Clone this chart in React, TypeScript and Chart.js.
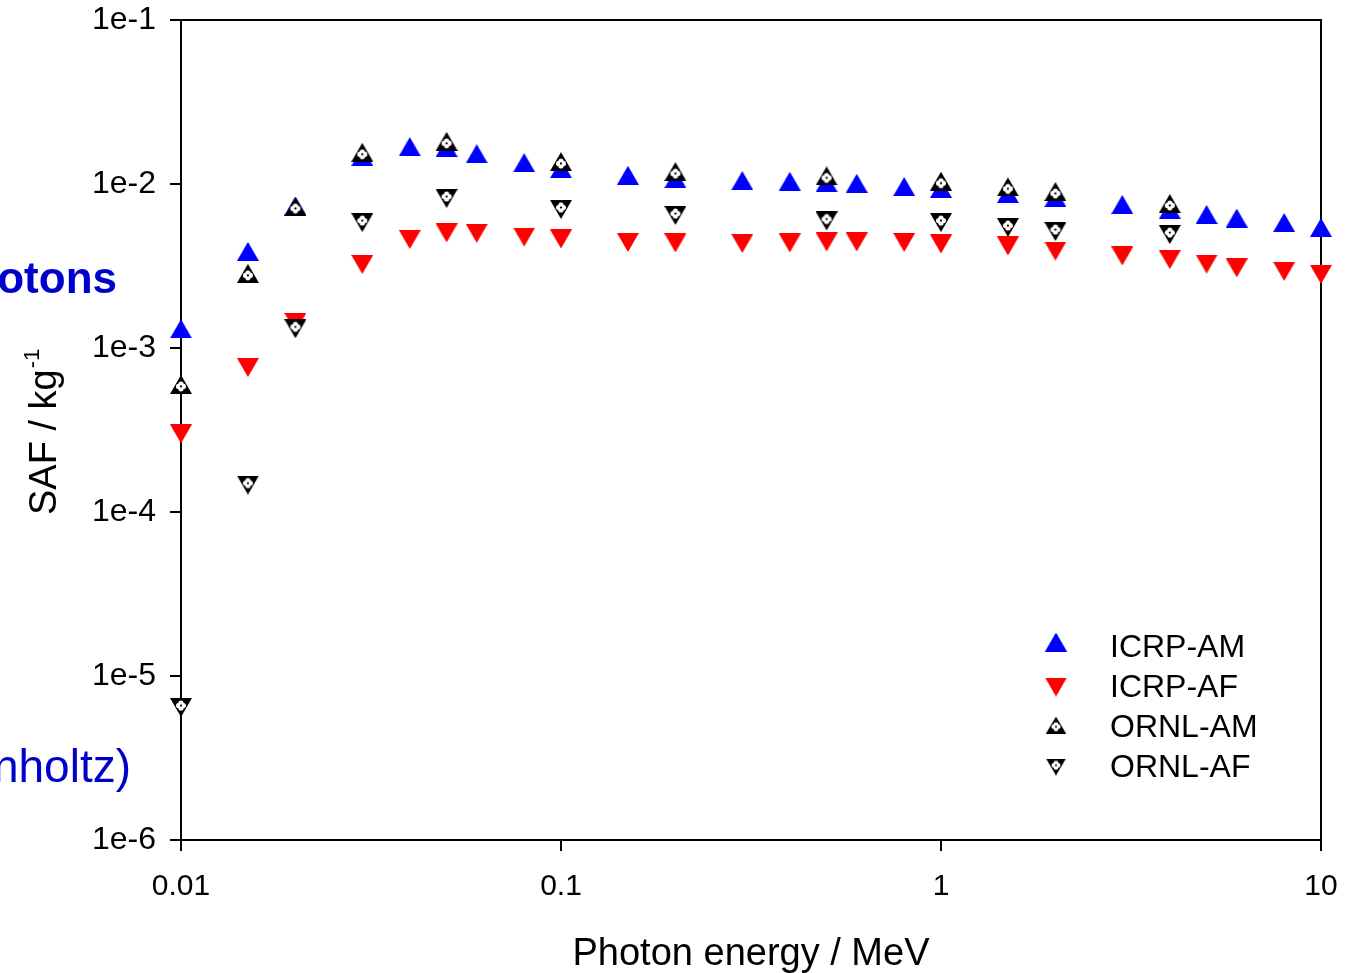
import React, { useEffect, useRef } from 'react';
import { Chart, registerables } from 'chart.js';

Chart.register(...registerables);

// ---- data ----
const icrpEnergies = [0.01, 0.015, 0.02, 0.03, 0.04, 0.05, 0.06, 0.08, 0.1, 0.15, 0.2, 0.3, 0.4, 0.5, 0.6, 0.8, 1, 1.5, 2, 3, 4, 5, 6, 8, 10];
const icrpAM = [1.31e-3, 3.88e-3, 7.34e-3, 1.47e-2, 1.69e-2, 1.67e-2, 1.53e-2, 1.35e-2, 1.24e-2, 1.13e-2, 1.08e-2, 1.05e-2, 1.04e-2, 1.02e-2, 1.01e-2, 9.65e-3, 9.4e-3, 8.75e-3, 8.27e-3, 7.5e-3, 6.99e-3, 6.52e-3, 6.2e-3, 5.82e-3, 5.43e-3];
const icrpAF = [3.0e-4, 7.6e-4, 1.43e-3, 3.23e-3, 4.59e-3, 5.03e-3, 5.0e-3, 4.75e-3, 4.62e-3, 4.4e-3, 4.37e-3, 4.34e-3, 4.37e-3, 4.43e-3, 4.43e-3, 4.4e-3, 4.31e-3, 4.19e-3, 3.9e-3, 3.64e-3, 3.46e-3, 3.25e-3, 3.08e-3, 2.93e-3, 2.81e-3];
const ornlEnergies = [0.01, 0.015, 0.02, 0.03, 0.05, 0.1, 0.2, 0.5, 1, 1.5, 2, 4];
const ornlAM = [5.99e-4, 2.85e-3, 7.29e-3, 1.56e-2, 1.82e-2, 1.37e-2, 1.19e-2, 1.12e-2, 1.04e-2, 9.6e-3, 9.0e-3, 7.6e-3];
const ornlAF = [6.43e-6, 1.46e-4, 1.31e-3, 5.82e-3, 8.16e-3, 7.0e-3, 6.43e-3, 5.95e-3, 5.82e-3, 5.43e-3, 5.13e-3, 4.92e-3];

const seriesNames = ['ICRP-AM', 'ICRP-AF', 'ORNL-AM', 'ORNL-AF'];
const xTicks = [0.01, 0.1, 1, 10];
const xTickLabels = ['0.01', '0.1', '1', '10'];
const yTicks = [1e-6, 1e-5, 1e-4, 1e-3, 1e-2, 1e-1];
const yTickLabels = ['1e-6', '1e-5', '1e-4', '1e-3', '1e-2', '1e-1'];
const xTitle = 'Photon energy / MeV';
const yTitle = 'SAF / kg';
const yTitleSup = '-1';
const sideText1 = 'Photons';
const sideText2 = 'nholtz)';

const FONT = '"Liberation Sans", Arial, Helvetica, sans-serif';

function makeMarker(up: boolean, w: number, h: number, color: string, ornl: boolean) {
  const c = document.createElement('canvas');
  c.width = w;
  c.height = h;
  const ctx = c.getContext('2d')!;
  ctx.fillStyle = color;
  ctx.beginPath();
  if (up) {
    ctx.moveTo(0, h);
    ctx.lineTo(w / 2, 0);
    ctx.lineTo(w, h);
  } else {
    ctx.moveTo(0, 0);
    ctx.lineTo(w, 0);
    ctx.lineTo(w / 2, h);
  }
  ctx.closePath();
  ctx.fill();
  if (ornl) {
    const s = w / 22;
    const cx = w / 2;
    const cy = up ? h * 0.6 : h * 0.4;
    const r = 2.6 * s;
    const o = 2.4 * s;
    ctx.fillStyle = '#ffffff';
    [[o, 0], [-o, 0], [0, o], [0, -o], [0, 0]].forEach(([dx, dy]) => {
      ctx.beginPath();
      ctx.arc(cx + dx, cy + dy, r, 0, Math.PI * 2);
      ctx.fill();
    });
    ctx.fillStyle = '#000000';
    ctx.beginPath();
    ctx.arc(cx, cy, 1.1 * s, 0, Math.PI * 2);
    ctx.fill();
  }
  return c;
}

export default function App() {
  const ref = useRef<HTMLCanvasElement | null>(null);

  useEffect(() => {
    const canvas = ref.current!;
    const mAM = makeMarker(true, 22, 19, '#0000ff', false);
    const mAF = makeMarker(false, 22, 19, '#ff0000', false);
    const mOAM = makeMarker(true, 22, 19, '#000000', true);
    const mOAF = makeMarker(false, 22, 19, '#000000', true);
    const lOAM = makeMarker(true, 20, 17, '#000000', true);
    const lOAF = makeMarker(false, 20, 17, '#000000', true);
    const legendMarkers = [mAM, mAF, lOAM, lOAF];

    const decor = {
      id: 'decor',
      beforeDatasetsDraw(chart: any) {
        const { ctx, chartArea: a } = chart;
        ctx.save();
        ctx.strokeStyle = '#000';
        ctx.lineWidth = 2;
        ctx.beginPath();
        ctx.moveTo(a.left, a.top);
        ctx.lineTo(a.right, a.top);
        ctx.lineTo(a.right, a.bottom);
        ctx.stroke();
        ctx.restore();
      },
      afterDraw(chart: any) {
        const { ctx, chartArea: a } = chart;
        ctx.save();
        // x title
        ctx.fillStyle = '#000';
        ctx.font = `38px ${FONT}`;
        ctx.textAlign = 'center';
        ctx.textBaseline = 'alphabetic';
        ctx.fillText(xTitle, (a.left + a.right) / 2, 965);
        // y title rotated
        ctx.save();
        ctx.translate(56, 515);
        ctx.rotate(-Math.PI / 2);
        ctx.textAlign = 'left';
        ctx.font = `38px ${FONT}`;
        ctx.fillText(yTitle, 0, 0);
        const w = ctx.measureText(yTitle).width;
        ctx.font = `22px ${FONT}`;
        ctx.fillText(yTitleSup, w + 1, -17);
        ctx.restore();
        // side texts (clipped)
        ctx.fillStyle = '#0000cc';
        ctx.textAlign = 'right';
        ctx.font = `bold 44px ${FONT}`;
        ctx.fillText(sideText1, 117, 293);
        ctx.font = `46px ${FONT}`;
        ctx.fillText(sideText2, 131, 782);
        // legend
        ctx.fillStyle = '#000';
        ctx.textAlign = 'left';
        ctx.font = `32px ${FONT}`;
        const markerY = [642, 687, 725, 767];
        const baseY = [657, 697, 737, 777];
        seriesNames.forEach((name, i) => {
          const m = legendMarkers[i];
          ctx.drawImage(m, 1056 - m.width / 2, markerY[i] - m.height / 2);
          ctx.fillText(name, 1110, baseY[i]);
        });
        ctx.restore();
      },
    };

    const chart = new Chart(canvas, {
      type: 'scatter',
      data: {
        datasets: [
          { label: seriesNames[0], data: icrpEnergies.map((x, i) => ({ x, y: icrpAM[i] })), pointStyle: mAM as any, order: 2, clip: false as any, backgroundColor: '#0000ff', borderColor: '#0000ff' },
          { label: seriesNames[1], data: icrpEnergies.map((x, i) => ({ x, y: icrpAF[i] })), pointStyle: mAF as any, order: 2, clip: false as any, backgroundColor: '#ff0000', borderColor: '#ff0000' },
          { label: seriesNames[2], data: ornlEnergies.map((x, i) => ({ x, y: ornlAM[i] })), pointStyle: mOAM as any, order: 1, clip: false as any, backgroundColor: '#000', borderColor: '#000' },
          { label: seriesNames[3], data: ornlEnergies.map((x, i) => ({ x, y: ornlAF[i] })), pointStyle: mOAF as any, order: 0, clip: false as any, backgroundColor: '#000', borderColor: '#000' },
        ],
      },
      options: {
        responsive: false,
        animation: false,
        events: [],
        layout: { padding: { top: 20, right: 27, left: 0, bottom: 0 } },
        plugins: { legend: { display: false }, tooltip: { enabled: false }, title: { display: false } },
        scales: {
          x: {
            type: 'logarithmic',
            min: 0.01,
            max: 10,
            afterBuildTicks: (s: any) => { s.ticks = xTicks.map((v) => ({ value: v })); },
            afterFit: (s: any) => { s.height = 133; s.paddingLeft = 0; s.paddingRight = 0; },
            ticks: {
              autoSkip: false,
              maxRotation: 0,
              color: '#000',
              padding: 18,
              font: { family: FONT, size: 30 },
              callback: (_v: any, i: number) => xTickLabels[i],
            },
            grid: { drawOnChartArea: false, drawTicks: true, tickLength: 11, color: '#000', lineWidth: 2 },
            border: { display: true, color: '#000', width: 2 },
          },
          y: {
            type: 'logarithmic',
            min: 1e-6,
            max: 1e-1,
            afterBuildTicks: (s: any) => { s.ticks = yTicks.map((v) => ({ value: v })); },
            afterFit: (s: any) => { s.width = 181; s.paddingTop = 0; s.paddingBottom = 0; },
            ticks: {
              autoSkip: false,
              color: '#000',
              padding: 14,
              font: { family: FONT, size: 32 },
              callback: (_v: any, i: number) => yTickLabels[i],
            },
            grid: { drawOnChartArea: false, drawTicks: true, tickLength: 11, color: '#000', lineWidth: 2 },
            border: { display: true, color: '#000', width: 2 },
          },
        },
      } as any,
      plugins: [decor],
    });

    return () => chart.destroy();
  }, []);

  return (
    <div style={{ position: 'absolute', left: 0, top: 0, width: 1348, height: 973, background: '#fff' }}>
      <canvas ref={ref} width={1348} height={973} style={{ display: 'block' }} />
    </div>
  );
}
